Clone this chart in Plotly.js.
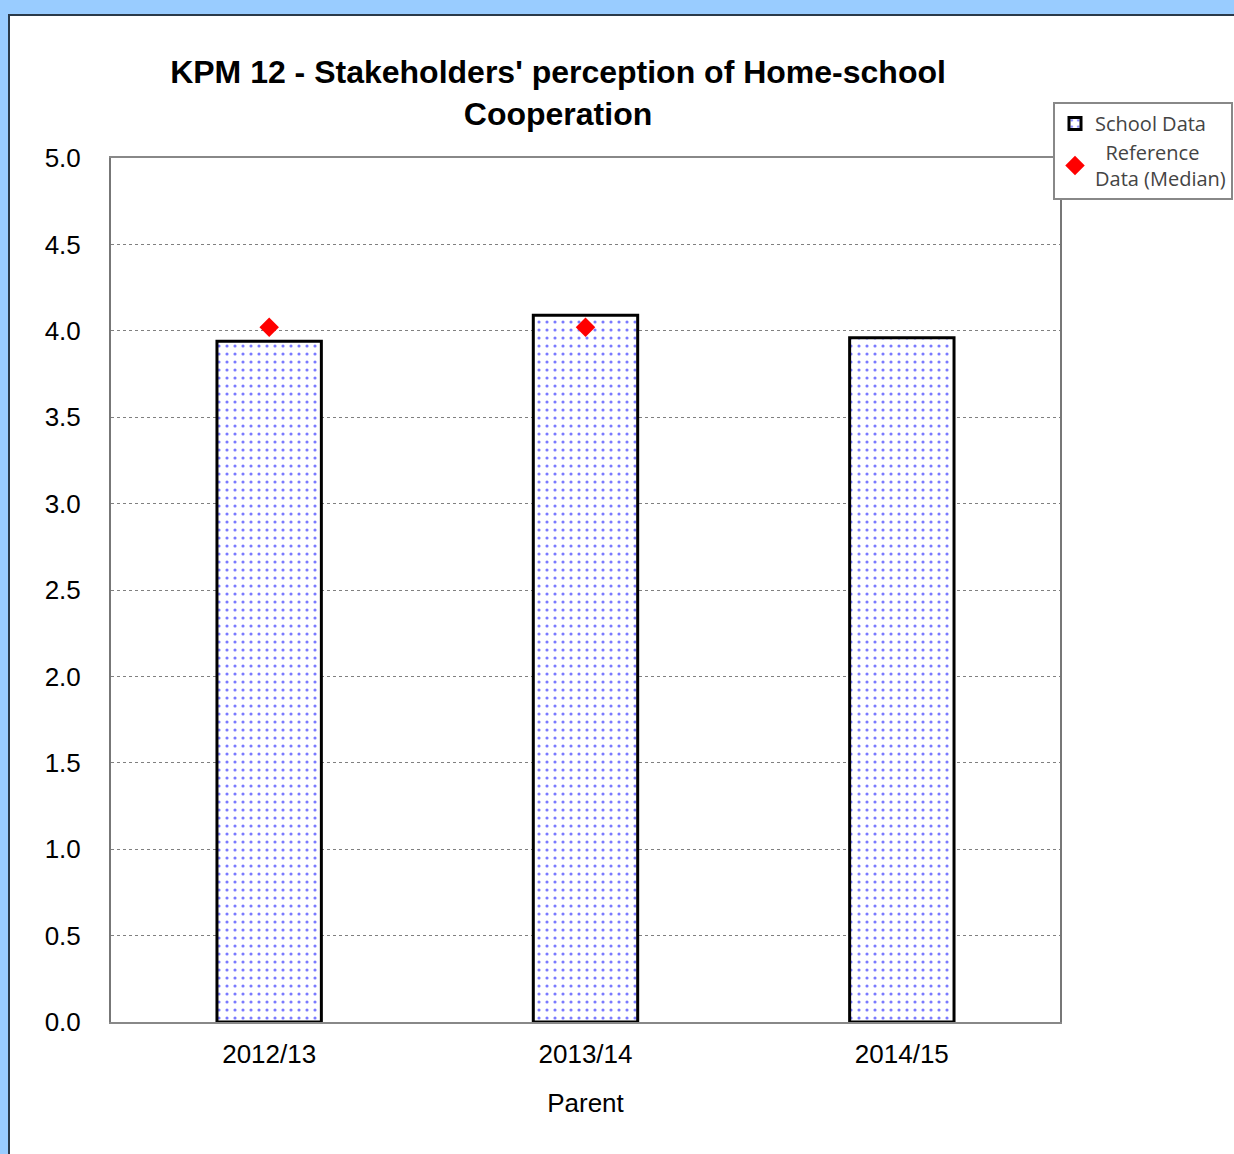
<!DOCTYPE html>
<html>
<head>
<meta charset="utf-8">
<script src="https://cdn.plot.ly/plotly-3.0.1.min.js"></script>
<style>
html,body{margin:0;padding:0;background:#99CCFF;width:1234px;height:1154px;overflow:hidden;}
#panel{position:absolute;left:8px;top:14px;width:1226px;height:1140px;background:#fff;border-left:2px solid #2a3a4a;border-top:2px solid #2a3a4a;}
#chart{position:absolute;left:0;top:0;width:1234px;height:1154px;}
</style>
</head>
<body>
<div id="panel"></div>
<div id="chart"></div>
<script>
const categories = ["2012/13", "2013/14", "2014/15"];
const schoolData = [3.94, 4.09, 3.96];
const referenceData = [4.02, 4.02, null];
const yTicks = [0, 0.5, 1, 1.5, 2, 2.5, 3, 3.5, 4, 4.5, 5];
const yTickLabels = ["0.0","0.5","1.0","1.5","2.0","2.5","3.0","3.5","4.0","4.5","5.0"];

const traces = [
  {
    type: "bar",
    name: "School Data",
    x: categories,
    y: schoolData,
    width: 0.33,
    marker: {
      color: "#ffffff",
      line: {color: "#000000", width: 3},
      pattern: {shape: ".", fgcolor: "#7a7aff", bgcolor: "#ffffff", size: 8, solidity: 0.12}
    },
    hoverinfo: "skip"
  },
  {
    type: "scatter",
    mode: "markers",
    name: "&nbsp;&nbsp;Reference<br>Data (Median)",
    x: categories,
    y: referenceData,
    marker: {symbol: "diamond", color: "#ff0000", size: 15},
    hoverinfo: "skip"
  }
];

const layout = {
  width: 1234,
  height: 1154,
  paper_bgcolor: "rgba(0,0,0,0)",
  plot_bgcolor: "#ffffff",
  margin: {l: 111, r: 174, t: 158, b: 132, autoexpand: false},
  showlegend: true,
  font: {family: "Liberation Sans, Arial, sans-serif", color: "#000"},
  title: {
    text: "<b>KPM 12 - Stakeholders' perception of Home-school<br>Cooperation</b>",
    font: {size: 32, family: "Liberation Sans, Arial, sans-serif", color: "#000"},
    xref: "container", x: 558/1234, xanchor: "center",
    yref: "container", y: 1 - 83/1154, yanchor: "top"
  },
  xaxis: {
    type: "category",
    tickfont: {size: 26},
    showline: true, linecolor: "#888888", linewidth: 2, mirror: true,
    ticks: "", showgrid: false, ticklabelstandoff: 8,
    title: {text: "Parent", font: {size: 26}, standoff: 26}
  },
  yaxis: {
    range: [0, 5],
    tickvals: yTicks,
    ticktext: yTickLabels,
    tickfont: {size: 26},
    showline: true, linecolor: "#777777", linewidth: 2, mirror: true,
    showgrid: true, gridcolor: "#808080", gridwidth: 1, griddash: "dot",
    zeroline: false, ticks: "", ticklabelstandoff: 23
  },
  legend: {
    xref: "container", yref: "container",
    x: 1053/1234, xanchor: "left",
    y: 1 - 102/1154, yanchor: "top",
    bgcolor: "#ffffff", bordercolor: "#888888", borderwidth: 2,
    font: {family: "Open Sans, DejaVu Sans, sans-serif", size: 20, color: "#444"},
    itemwidth: 30, tracegroupgap: 0
  }
};

Plotly.newPlot("chart", traces, layout, {displayModeBar: false, staticPlot: true});
</script>
</body>
</html>
